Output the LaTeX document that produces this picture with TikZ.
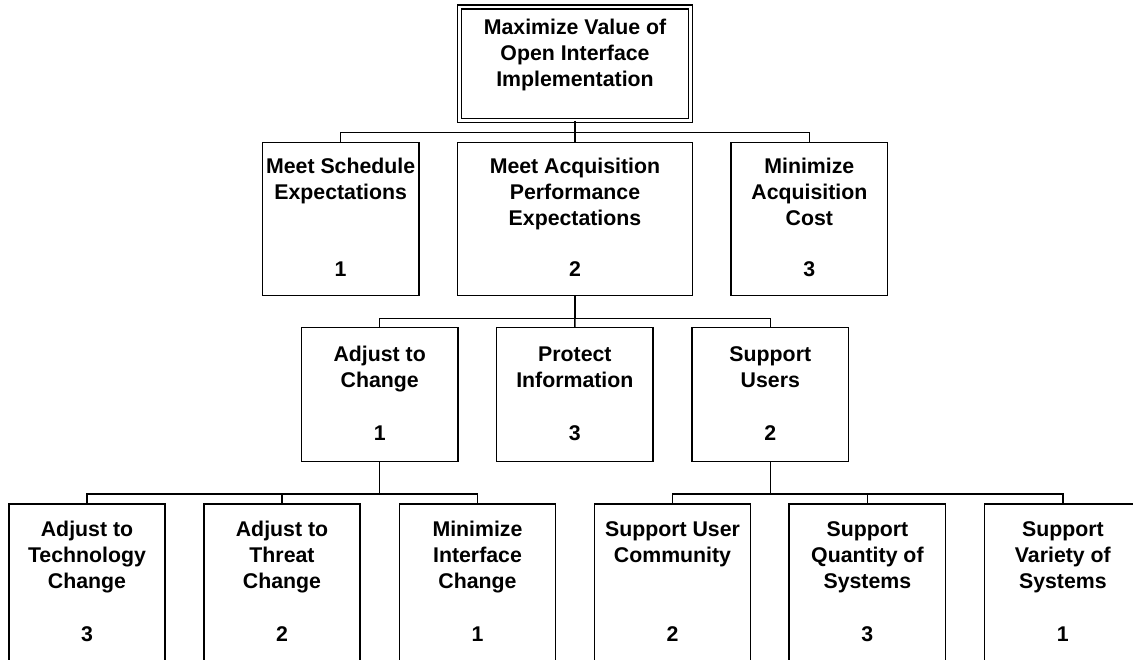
\documentclass[tikz,border=0pt]{standalone}
\usepackage{fontspec}
\setmainfont{Liberation Sans}
\begin{document}
\begin{tikzpicture}[x=1pt,y=-1pt,
  box/.style={draw, line width=1.5pt, minimum width=156.4pt, minimum height=#1, inner sep=0pt, outer sep=0pt},
  lbl/.style={font=\bfseries\fontsize{21.3}{26}\selectfont, align=center, anchor=base, inner sep=0pt},
  conn/.style={line width=1.5pt}]
\useasboundingbox (0,0) rectangle (1133,660);
\clip (0,0) rectangle (1133,660);
% top
\node[draw, line width=1.4pt, double, double distance=2.6pt, minimum width=230.6pt, minimum height=113.8pt, inner sep=0pt, outer sep=0pt] (top) at (575,63.9) {};
\node[lbl] (ttop) at ([yshift=-79.3pt]top.north) {Maximize Value of\\Open Interface\\Implementation};
% level 1
\node[box=153.4pt] (sched) at (340.65,219) {};
\node[box=153.4pt, minimum width=234.6pt] (acq) at (575,219) {};
\node[box=153.4pt] (cost) at (809.35,219) {};
\node[lbl] (tsched) at ([yshift=-57pt]sched.north) {Meet Schedule\\Expectations};
\node[lbl] (tacq) at ([yshift=-83pt]acq.north) {Meet Acquisition\\Performance\\Expectations};
\node[lbl] (tcost) at ([yshift=-83pt]cost.north) {Minimize\\Acquisition\\Cost};
\node[lbl] (nsched) at ([yshift=-134.7pt]sched.north) {1};
\node[lbl] (nacq) at ([yshift=-134.7pt]acq.north) {2};
\node[lbl] (ncost) at ([yshift=-134.7pt]cost.north) {3};
% level 2
\node[box=134pt] (adj) at (379.7,394.7) {};
\node[box=134pt] (prot) at (574.85,394.7) {};
\node[box=134pt] (users) at (770.3,394.7) {};
\node[lbl] (tadj) at ([yshift=-60pt]adj.north) {Adjust to\\Change};
\node[lbl] (tprot) at ([yshift=-60pt]prot.north) {Protect\\Information};
\node[lbl] (tusers) at ([yshift=-60pt]users.north) {Support\\Users};
\node[lbl] (nadj) at ([yshift=-112.3pt]adj.north) {1};
\node[lbl] (nprot) at ([yshift=-112.3pt]prot.north) {3};
\node[lbl] (nusers) at ([yshift=-112.3pt]users.north) {2};
% level 3
\node[box=160pt] (tech) at (87,584) {};
\node[box=160pt] (threat) at (282,584) {};
\node[box=160pt] (intf) at (477.5,584) {};
\node[box=160pt] (comm) at (672.5,584) {};
\node[box=160pt] (qty) at (867.4,584) {};
\node[box=160pt] (var) at (1062.85,584) {};
\node[lbl] (ttech) at ([yshift=-84pt]tech.north) {Adjust to\\Technology\\Change};
\node[lbl] (tthreat) at ([yshift=-84pt]threat.north) {Adjust to\\Threat\\Change};
\node[lbl] (tintf) at ([yshift=-84pt]intf.north) {Minimize\\Interface\\Change};
\node[lbl] (tcomm) at ([yshift=-58pt]comm.north) {Support User\\Community};
\node[lbl] (tqty) at ([yshift=-84pt]qty.north) {Support\\Quantity of\\Systems};
\node[lbl] (tvar) at ([yshift=-84pt]var.north) {Support\\Variety of\\Systems};
\node[lbl] (ntech) at ([yshift=-137pt]tech.north) {3};
\node[lbl] (nthreat) at ([yshift=-137pt]threat.north) {2};
\node[lbl] (nintf) at ([yshift=-137pt]intf.north) {1};
\node[lbl] (ncomm) at ([yshift=-137pt]comm.north) {2};
\node[lbl] (nqty) at ([yshift=-137pt]qty.north) {3};
\node[lbl] (nvar) at ([yshift=-137pt]var.north) {1};
% connectors
\coordinate (b1) at (575,132.5);
\coordinate (b2) at (575,318.3);
\coordinate (b3l) at (379.7,494);
\coordinate (b3r) at (770.3,494);
\draw[conn] (top.south) -- (b1);
\draw[conn] (sched.north) |- (b1);
\draw[conn] (cost.north) |- (b1);
\draw[conn] (acq.north) -- (b1);
\draw[conn] (acq.south) -- (b2);
\draw[conn] (adj.north) |- (b2);
\draw[conn] (users.north) |- (b2);
\draw[conn] (prot.north) -- (b2);
\draw[conn] (adj.south) -- (b3l);
\draw[conn] (tech.north) |- (b3l);
\draw[conn] (threat.north) |- (b3l);
\draw[conn] (intf.north) |- (b3l);
\draw[conn] (users.south) -- (b3r);
\draw[conn] (comm.north) |- (b3r);
\draw[conn] (qty.north) |- (b3r);
\draw[conn] (var.north) |- (b3r);
\end{tikzpicture}
\end{document}
